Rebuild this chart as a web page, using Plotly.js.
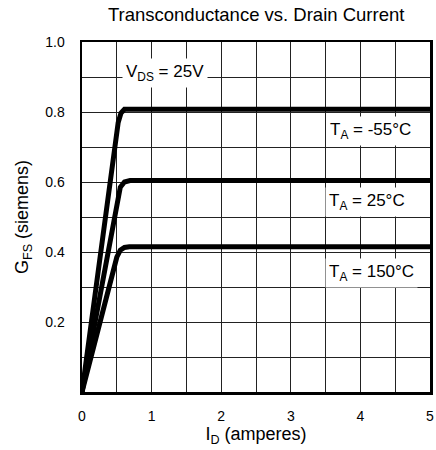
<!DOCTYPE html>
<html>
<head>
<meta charset="utf-8">
<script src="https://cdn.plot.ly/plotly-3.0.1.min.js"></script>
<style>html,body{margin:0;padding:0;background:#fff;}#chart{width:436px;height:450px;}</style>
</head>
<body>
<div id="chart"></div>
<script>
// Data
const idM55 = [0, 0.52, 0.56, 0.61, 5];
const gfsM55 = [0, 0.77, 0.797, 0.808, 0.808];
const id25 = [0, 0.5, 0.55, 0.61, 0.69, 5];
const gfs25 = [0, 0.55, 0.585, 0.6, 0.604, 0.604];
const id150 = [0, 0.5, 0.55, 0.61, 0.68, 5];
const gfs150 = [0, 0.385, 0.405, 0.413, 0.415, 0.415];

const xTickVals = [0, 0.5, 1, 1.5, 2, 2.5, 3, 3.5, 4, 4.5, 5];
const xTickText = ['0', '', '1', '', '2', '', '3', '', '4', '', '5'];
const yTickVals = [0, 0.1, 0.2, 0.3, 0.4, 0.5, 0.6, 0.7, 0.8, 0.9, 1.0];
const yTickText = ['', '', '0.2', '', '0.4', '', '0.6', '', '0.8', '', '1.0'];

const labels = [
  {text: 'V<sub>DS</sub> = 25V', x: 1.19, y: 0.912},
  {text: 'T<sub>A</sub> = -55°C', x: 4.14, y: 0.745},
  {text: 'T<sub>A</sub> = 25°C', x: 4.1, y: 0.543},
  {text: 'T<sub>A</sub> = 150°C', x: 4.16, y: 0.34}
];

const lineStyle = {color: '#000', width: 5};
const traces = [
  {x: idM55, y: gfsM55, mode: 'lines', line: lineStyle, hoverinfo: 'skip'},
  {x: id25, y: gfs25, mode: 'lines', line: lineStyle, hoverinfo: 'skip'},
  {x: id150, y: gfs150, mode: 'lines', line: lineStyle, hoverinfo: 'skip'}
];

const font = {family: 'Liberation Sans, Arial, sans-serif', color: '#000'};

const layout = {
  width: 436, height: 450,
  margin: {l: 82, r: 6, t: 42, b: 58},
  paper_bgcolor: '#fff', plot_bgcolor: '#fff',
  showlegend: false,
  font: Object.assign({size: 14}, font),
  title: {text: 'Transconductance vs. Drain Current', x: 0.5875, xanchor: 'center', y: 0.968, yanchor: 'middle',
          font: Object.assign({size: 18.5}, font)},
  xaxis: {
    range: [0, 5], tickmode: 'array', tickvals: xTickVals, ticktext: xTickText,
    showgrid: true, gridcolor: '#222', gridwidth: 1,
    showline: true, linecolor: '#000', linewidth: 2.5, mirror: true,
    ticks: '', ticklabelstandoff: 10, zeroline: false,
    tickfont: Object.assign({size: 14}, font),
    title: {text: 'I<sub>D</sub> (amperes)', standoff: 4, font: Object.assign({size: 18}, font)}
  },
  yaxis: {
    range: [0, 1.0], tickmode: 'array', tickvals: yTickVals, ticktext: yTickText,
    showgrid: true, gridcolor: '#222', gridwidth: 1,
    showline: true, linecolor: '#000', linewidth: 2.5, mirror: true,
    ticks: '', ticklabelstandoff: 12, zeroline: false,
    tickfont: Object.assign({size: 14}, font),
    title: {text: 'G<sub>FS</sub> (siemens)', standoff: 12, font: Object.assign({size: 18}, font)}
  },
  annotations: labels.map(l => ({
    text: l.text, x: l.x, y: l.y, xref: 'x', yref: 'y', showarrow: false,
    bgcolor: '#fff', borderpad: 3, font: Object.assign({size: 17}, font)
  }))
};

Plotly.newPlot('chart', traces, layout, {displayModeBar: false, staticPlot: true});
</script>
</body>
</html>
